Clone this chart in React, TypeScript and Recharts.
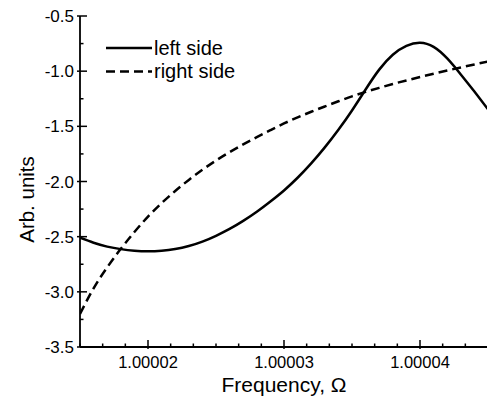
import { Label, Legend, Line, LineChart, XAxis, YAxis } from "recharts"

// frequency (Omega) sampled every 1e-6
const frequency = [
  1.000015, 1.000016, 1.000017, 1.000018, 1.000019, 1.00002, 1.000021, 1.000022,
  1.000023, 1.000024, 1.000025, 1.000026, 1.000027, 1.000028, 1.000029, 1.00003,
  1.000031, 1.000032, 1.000033, 1.000034, 1.000035, 1.000036, 1.000037, 1.000038,
  1.000039, 1.00004, 1.000041, 1.000042, 1.000043, 1.000044, 1.000045,
]

const leftSide = [
  -2.51, -2.555, -2.59, -2.613, -2.627, -2.632, -2.627, -2.612, -2.585, -2.545,
  -2.492, -2.43, -2.357, -2.274, -2.181, -2.081, -1.966, -1.836, -1.691, -1.531,
  -1.356, -1.166, -0.986, -0.851, -0.771, -0.743, -0.78, -0.885, -1.03, -1.185, -1.345,
]

const rightSide = [
  -3.2, -2.968, -2.778, -2.61, -2.458, -2.318, -2.196, -2.086, -1.986, -1.894,
  -1.81, -1.734, -1.664, -1.598, -1.535, -1.474, -1.419, -1.368, -1.32, -1.273,
  -1.228, -1.188, -1.151, -1.116, -1.084, -1.053, -1.023, -0.994, -0.966, -0.939, -0.913,
]

const seriesNames = ["left side", "right side"]
const xDomain = [1.000015, 1.000045]
const xMajorTicks = [1.00002, 1.00003, 1.00004]
const yDomain = [-3.5, -0.5]
const yMajorTicks = [-3.5, -3.0, -2.5, -2.0, -1.5, -1.0, -0.5]

const data = frequency.map((f, i) => ({ f, left: leftSide[i], right: rightSide[i] }))

// six minor divisions between major x ticks, two between major y ticks
const xStep = (xMajorTicks[1] - xMajorTicks[0]) / 6
const xAllTicks: number[] = []
for (let i = -3; i <= 15; i++) xAllTicks.push(xMajorTicks[0] + i * xStep)
const yAllTicks: number[] = []
for (let i = 0; i <= 12; i++) yAllTicks.push(yDomain[0] + i * 0.25)

const isMajorX = (v: number) => xMajorTicks.some((m) => Math.abs(m - v) < 1e-10)
const isMajorY = (v: number) => yMajorTicks.some((m) => Math.abs(m - v) < 1e-9)

const dashes: Record<string, string | undefined> = { left: undefined, right: "9 5" }
const font = "'Liberation Sans', Arial, sans-serif"

function BottomTick({ x, y, payload }: any) {
  const major = isMajorX(payload.value)
  return (
    <g>
      <line x1={x} x2={x} y1={y + (major ? 2 : 0)} y2={y - (major ? 7 : 3.5)} stroke="#000" strokeWidth={1.5} />
      {major && (
        <text x={x} y={y + 21} textAnchor="middle" fontSize={16.5} fill="#000" fontFamily={font}>
          {payload.value.toFixed(5)}
        </text>
      )}
    </g>
  )
}

function TopTick({ x, y, payload }: any) {
  const major = isMajorX(payload.value)
  return <line x1={x} x2={x} y1={y} y2={y + (major ? 7 : 3.5)} stroke="#000" strokeWidth={1.5} />
}

function LeftTick({ x, y, payload }: any) {
  const major = isMajorY(payload.value)
  return (
    <g>
      <line x1={x - (major ? 3 : 0)} x2={x + (major ? 7 : 3.5)} y1={y} y2={y} stroke="#000" strokeWidth={1.5} />
      {major && (
        <text x={x - 6} y={y + 6} textAnchor="end" fontSize={17} fill="#000" fontFamily={font}>
          {payload.value.toFixed(1)}
        </text>
      )}
    </g>
  )
}

function RightTick({ x, y, payload }: any) {
  const major = isMajorY(payload.value)
  return <line x1={x} x2={x - (major ? 7 : 3.5)} y1={y} y2={y} stroke="#000" strokeWidth={1.5} />
}

function YTitle({ viewBox }: any) {
  const cx = viewBox.x + 26
  const cy = viewBox.y + viewBox.height / 2 + 18
  return (
    <text x={cx} y={cy} transform={`rotate(-90 ${cx} ${cy})`} textAnchor="middle" dominantBaseline="central"
      fontSize={20.5} fill="#000" fontFamily={font}>
      Arb. units
    </text>
  )
}

function LegendBox({ payload }: any) {
  return (
    <svg width={170} height={50} style={{ display: "block" }}>
      {(payload || []).map((entry: any, i: number) => (
        <g key={entry.value} transform={`translate(0, ${i * 23.5})`}>
          <line x1={0} x2={46} y1={12} y2={12} stroke="#000" strokeWidth={2.5} strokeDasharray={dashes[entry.dataKey]} />
          <text x={48} y={18.5} fontSize={20} fill="#000" fontFamily={font}>{entry.value}</text>
        </g>
      ))}
    </svg>
  )
}

export default function App() {
  return (
    <div style={{ position: "fixed", left: 0, top: 0, width: 487, height: 398, overflow: "hidden", background: "#fff" }}>
      <LineChart width={490} height={398} data={data} margin={{ top: 16, right: 2, left: 0, bottom: 0 }}
        style={{ fontFamily: font }}>
        <XAxis xAxisId="bottom" dataKey="f" type="number" domain={xDomain} allowDataOverflow ticks={xAllTicks}
          interval={0} height={51} tickSize={0} tickMargin={0} tickLine={false}
          axisLine={{ stroke: "#000", strokeWidth: 1.8 }} tick={<BottomTick />}>
          <Label value="Frequency, Ω" position="insideBottom" offset={6} fontSize={21} fill="#000" />
        </XAxis>
        <XAxis xAxisId="top" orientation="top" dataKey="f" type="number" domain={xDomain} allowDataOverflow
          ticks={xAllTicks} interval={0} height={0} tickSize={0} tickMargin={0} tickLine={false}
          axisLine={{ stroke: "#000", strokeWidth: 1.8 }} tick={<TopTick />} />
        <YAxis yAxisId="left" type="number" domain={yDomain} allowDataOverflow ticks={yAllTicks} interval={0}
          width={80} tickSize={0} tickMargin={0} tickLine={false}
          axisLine={{ stroke: "#000", strokeWidth: 1.8 }} tick={<LeftTick />}>
          <Label content={<YTitle />} />
        </YAxis>
        <YAxis yAxisId="right" orientation="right" type="number" domain={yDomain} allowDataOverflow ticks={yAllTicks}
          interval={0} width={0} tickSize={0} tickMargin={0} tickLine={false}
          axisLine={{ stroke: "#000", strokeWidth: 1.8 }} tick={<RightTick />} />
        <Legend content={<LegendBox />} layout="vertical" align="center" verticalAlign="middle"
          wrapperStyle={{ position: "absolute", left: 106, top: 36, width: 170 }} />
        <Line xAxisId="bottom" yAxisId="left" dataKey="left" name={seriesNames[0]} type="natural" stroke="#000"
          strokeWidth={2.5} dot={false} isAnimationActive={false} />
        <Line xAxisId="bottom" yAxisId="left" dataKey="right" name={seriesNames[1]} type="natural" stroke="#000"
          strokeWidth={2.5} strokeDasharray={dashes.right} dot={false} isAnimationActive={false} />
      </LineChart>
    </div>
  )
}
